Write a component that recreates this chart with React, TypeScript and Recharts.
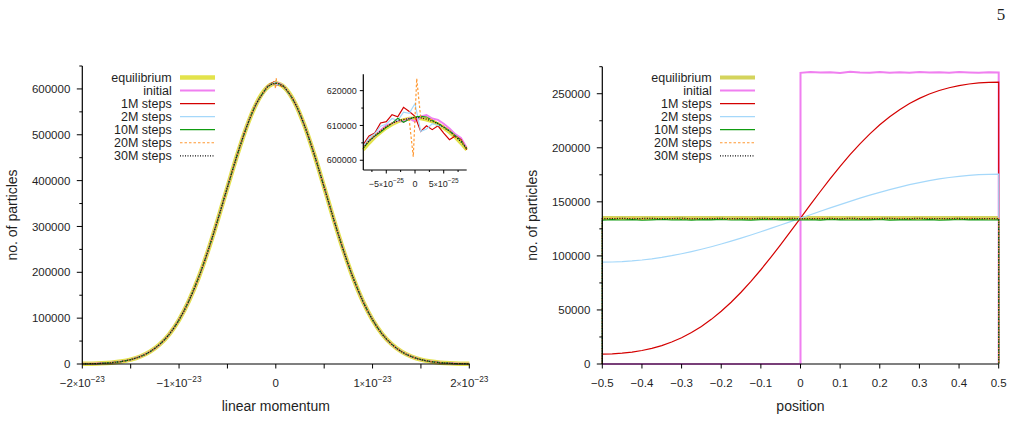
import React from 'react';
import { LineChart, Line, XAxis, YAxis, Legend } from 'recharts';

const FONT = '"Liberation Sans", Arial, Helvetica, sans-serif';
const INK = '#1f1f1f';

/* ---------------- left panel: linear momentum histogram ---------------- */

// wings of the histogram (bins every 1e-24); every run lies on the same curve here
const wingMomentum = [
  -2.0e-23, -1.9e-23, -1.8e-23, -1.7e-23, -1.6e-23, -1.5e-23, -1.4e-23, -1.3e-23, -1.2e-23, -1.1e-23,
  -1.0e-23, -9.0e-24, -8.0e-24, -7.0e-24, -6.0e-24, -5.0e-24, -4.0e-24, -3.0e-24, -2.0e-24, -1.0e-24,
  1.0e-24, 2.0e-24, 3.0e-24, 4.0e-24, 5.0e-24, 6.0e-24, 7.0e-24, 8.0e-24, 9.0e-24, 1.0e-23,
  1.1e-23, 1.2e-23, 1.3e-23, 1.4e-23, 1.5e-23, 1.6e-23, 1.7e-23, 1.8e-23, 1.9e-23, 2.0e-23,
];
const wingCounts = [
  375, 770, 1530, 2920, 5380, 9550, 16320, 26890, 42700, 65320,
  96320, 136860, 187410, 247310, 314520, 385450, 455260, 518170, 568370, 600790,
  600790, 568370, 518170, 455260, 385450, 314520, 247310, 187410, 136860, 96320,
  65320, 42700, 26890, 16320, 9550, 5380, 2920, 1530, 770, 375,
];

// centre of the histogram (bins every 1e-25), shown enlarged in the inset
const centreMomentum = [
  -9e-25, -8e-25, -7e-25, -6e-25, -5e-25, -4e-25, -3e-25, -2e-25, -1e-25, 0,
  1e-25, 2e-25, 3e-25, 4e-25, 5e-25, 6e-25, 7e-25, 8e-25, 9e-25,
];
const centreMomentum20M = [
  -9e-25, -8e-25, -7e-25, -6e-25, -5e-25, -4e-25, -3e-25, -2e-25, -1e-25, -3e-26,
  3e-26, 1e-25, 2e-25, 3e-25, 4e-25, 5e-25, 6e-25, 7e-25, 8e-25, 9e-25,
];
const centreEquilibrium = [603000, 604900, 606600, 608000, 609300, 610300, 611100, 611600, 612000, 612100, 612000, 611600, 611100, 610300, 609300, 608000, 606600, 604900, 603000];
const centreInitial = [604000, 605600, 607000, 608600, 610000, 610600, 611500, 611100, 612000, 611100, 612600, 613000, 612000, 611600, 610500, 609100, 607500, 606400, 603600];
const centre1M = [604500, 607000, 607800, 610700, 611100, 613100, 612500, 615200, 614000, 612600, 608300, 609900, 608800, 609900, 607800, 605900, 607000, 606000, 603000];
const centre2M = [604000, 606400, 607600, 609800, 610400, 612000, 611400, 613800, 613500, 616300, 608300, 609000, 610500, 610000, 609600, 608400, 607100, 605500, 603400];
const centre10M = [603500, 605500, 607000, 608100, 609500, 610600, 612100, 610900, 611800, 612500, 612600, 612400, 611500, 610600, 609600, 608500, 607100, 605600, 603300];
const centre20M = [603800, 605800, 607200, 608500, 609800, 610600, 611200, 611800, 611500, 601000, 623500, 612000, 612200, 611600, 610800, 609800, 608600, 607000, 605600, 603600];
const centre30M = [603600, 605600, 607000, 608400, 609600, 610600, 611300, 611700, 612000, 612300, 612200, 611800, 611200, 610500, 609400, 608300, 606900, 605300, 603400];

const momentumTicks = [-2e-23, -1.5e-23, -1e-23, -5e-24, 0, 5e-24, 1e-23, 1.5e-23, 2e-23];
const momentumCountTicks = [0, 50000, 100000, 150000, 200000, 250000, 300000, 350000, 400000, 450000, 500000, 550000, 600000, 650000];
const insetMomentumTicks = [-7.5e-25, -5e-25, -2.5e-25, 0, 2.5e-25, 5e-25, 7.5e-25];
const insetCountTicks = [600000, 605000, 610000, 615000, 620000];

/* ---------------- right panel: position histogram ---------------- */

const positionGrid = [
  -0.5, -0.475, -0.45, -0.425, -0.4, -0.375, -0.35, -0.325, -0.3, -0.275,
  -0.25, -0.225, -0.2, -0.175, -0.15, -0.125, -0.1, -0.075, -0.05, -0.025,
  0, 0.025, 0.05, 0.075, 0.1, 0.125, 0.15, 0.175, 0.2, 0.225,
  0.25, 0.275, 0.3, 0.325, 0.35, 0.375, 0.4, 0.425, 0.45, 0.475, 0.5,
];
const initialGrid = [0, 0.025, 0.05, 0.075, 0.1, 0.125, 0.15, 0.175, 0.2, 0.225, 0.25, 0.275, 0.3, 0.325, 0.35, 0.375, 0.4, 0.425, 0.45, 0.475, 0.5];
const positionInitial = [269300, 270100, 269600, 269900, 269200, 270300, 269700, 269400, 270000, 269500, 269800, 269300, 270200, 269600, 269900, 269400, 270100, 269700, 269500, 269900, 269600];
const position1M = [
  9220, 9410, 9995, 10999, 12469, 14464, 17052, 20306, 24297, 29092,
  34746, 41295, 48757, 57125, 66363, 76414, 87187, 98573, 110441, 122636,
  135000, 147364, 159559, 171427, 182813, 193586, 203637, 212875, 221243, 228705,
  235254, 240908, 245703, 249694, 252948, 255536, 257531, 259001, 260005, 260589, 260780,
];
const position2M = [
  94200, 94330, 94700, 95330, 96190, 97300, 98640, 100200, 101970, 103950,
  106120, 108470, 110980, 113630, 116420, 119330, 122320, 125400, 128530, 131710,
  134900, 138090, 141270, 144400, 147480, 150480, 153380, 156170, 158820, 161330,
  163680, 165850, 167830, 169600, 171160, 172500, 173610, 174480, 175100, 175480, 175600,
];
const position10M = [
  133100, 133500, 133200, 133600, 133000, 133400, 133700, 133200, 133500, 133100,
  133600, 133300, 133800, 133200, 133400, 133000, 133500, 133700, 133300, 133600,
  133200, 133500, 133100, 133700, 133400, 133200, 133600, 133300, 133800, 133100,
  133400, 133600, 133200, 133500, 133000, 133400, 133700, 133300, 133500, 133200, 133400,
];
const position20M = [
  134300, 134700, 134400, 134900, 134200, 134600, 134500, 134800, 134300, 134600,
  134400, 134700, 134500, 134200, 134800, 134400, 134600, 134300, 134700, 134500,
  134600, 134300, 134800, 134400, 134600, 134500, 134200, 134700, 134400, 134600,
  134800, 134300, 134500, 134700, 134400, 134600, 134300, 134800, 134500, 134400, 134600,
];
const position30M = [
  134500, 134400, 134800, 134300, 134600, 134700, 134400, 134500, 134900, 134300,
  134600, 134500, 134700, 134400, 134600, 134300, 134800, 134500, 134400, 134700,
  134500, 134600, 134400, 134700, 134300, 134800, 134500, 134400, 134600, 134700,
  134300, 134500, 134800, 134400, 134600, 134500, 134700, 134300, 134600, 134500, 134400,
];
const equilibriumPositions = [-0.5, 0.5];
const equilibriumCounts = [135000, 135000];

const positionTicks = [-0.5, -0.4, -0.3, -0.2, -0.1, 0, 0.1, 0.2, 0.3, 0.4, 0.5];
const positionCountTicks = [0, 25000, 50000, 75000, 100000, 125000, 150000, 175000, 200000, 225000, 250000, 275000];

/* ---------------- series styling ---------------- */

interface SeriesStyle { name: string; color: string; width: number; dash?: string }

const leftStyles: SeriesStyle[] = [
  { name: 'equilibrium', color: '#e3e34b', width: 4.5 },
  { name: 'initial', color: '#f07ff0', width: 2 },
  { name: '1M steps', color: '#d40000', width: 1.2 },
  { name: '2M steps', color: '#a5d8fa', width: 1.2 },
  { name: '10M steps', color: '#119c11', width: 1.2 },
  { name: '20M steps', color: '#ff9933', width: 1.2, dash: '2.5 2' },
  { name: '30M steps', color: '#111111', width: 1.2, dash: '1 1.5' },
];
const rightStyles: SeriesStyle[] = leftStyles.map((s, i) =>
  i === 0 ? { ...s, color: '#d4d45c', width: 4 } : s,
);

type Pt = { p: number; n: number };
const pts = (xs: number[], ys: number[]): Pt[] => xs.map((x, i) => ({ p: x, n: ys[i] }));

// full momentum histogram: wings plus the finely binned centre of each run
const withWings = (xs: number[], ys: number[]): Pt[] => {
  const wings = pts(wingMomentum, wingCounts);
  return [...wings.filter((d) => d.p < 0), ...pts(xs, ys), ...wings.filter((d) => d.p > 0)];
};

const centreRuns: Array<[number[], number[]]> = [
  [centreMomentum, centreEquilibrium],
  [centreMomentum, centreInitial],
  [centreMomentum, centre1M],
  [centreMomentum, centre2M],
  [centreMomentum, centre10M],
  [centreMomentum20M, centre20M],
  [centreMomentum, centre30M],
];

// position histogram closed at the walls (bins outside the box are empty)
const boxed = (xs: number[], ys: number[]): Pt[] => [
  { p: xs[0], n: 0 },
  ...pts(xs, ys),
  { p: xs[xs.length - 1], n: 0 },
];

const positionRuns: Pt[][] = [
  pts(equilibriumPositions, equilibriumCounts),
  [{ p: -0.5, n: 0 }, ...boxed(initialGrid, positionInitial)],
  boxed(positionGrid, position1M),
  boxed(positionGrid, position2M),
  boxed(positionGrid, position10M),
  boxed(positionGrid, position20M),
  boxed(positionGrid, position30M),
];

/* ---------------- tick renderers ---------------- */

const near = (v: number, step: number) => Math.abs(v / step - Math.round(v / step)) < 1e-6;
const minus = (s: string) => s.replace('-', '\u2212');

function yTick(isMajor: (v: number) => boolean, fs: number, gap: number, majorLen: number, minorLen: number) {
  return (props: any) => {
    const { x, y, payload } = props;
    const v = payload.value as number;
    const major = isMajor(v);
    return (
      <g>
        <line x1={x} x2={x - (major ? majorLen : minorLen)} y1={y} y2={y} stroke="#000" strokeWidth={1} />
        {major && (
          <text x={x - gap} y={y + fs * 0.36} textAnchor="end" fontSize={fs} fontFamily={FONT} fill={INK}>
            {String(Math.round(v))}
          </text>
        )}
      </g>
    );
  };
}

// labels like "−5×10^−25": labelled every `step`, mantissa in units of 10^exp
function sciTick(step: number, exp: number, fs: number, dy: number, majorLen: number, minorLen: number) {
  const unit = Math.pow(10, exp);
  return (props: any) => {
    const { x, y, payload } = props;
    const v = payload.value as number;
    const major = near(v, step);
    const m = Math.round(v / unit);
    return (
      <g>
        <line x1={x} x2={x} y1={y} y2={y + (major ? majorLen : minorLen)} stroke="#000" strokeWidth={1} />
        {major && (
          <text x={x} y={y + dy} textAnchor="middle" fontSize={fs} fontFamily={FONT} fill={INK}>
            {m === 0 ? (
              '0'
            ) : (
              <>
                {minus(String(m))}
                <tspan fontSize={fs * 0.75}>{'\u00d7'}</tspan>10
                <tspan fontSize={fs * 0.72} dy={-fs * 0.42}>{minus(String(exp))}</tspan>
              </>
            )}
          </text>
        )}
      </g>
    );
  };
}

function decTick(fs: number, dy: number, len: number) {
  return (props: any) => {
    const { x, y, payload } = props;
    const v = payload.value as number;
    const label = Math.abs(v) < 1e-9 ? '0' : minus(v.toFixed(1));
    return (
      <g>
        <line x1={x} x2={x} y1={y} y2={y + len} stroke="#000" strokeWidth={1} />
        <text x={x} y={y + dy} textAnchor="middle" fontSize={fs} fontFamily={FONT} fill={INK}>
          {label}
        </text>
      </g>
    );
  };
}

/* ---------------- key ---------------- */

function Key({ styles }: { styles: SeriesStyle[] }) {
  return (
    <svg width={130} height={96} style={{ display: 'block', overflow: 'visible' }}>
      {styles.map((s, i) => {
        const cy = 9.5 + i * 13.05;
        return (
          <g key={s.name}>
            <text x={81.7} y={cy + 4.4} textAnchor="end" fontSize={12.5} fontFamily={FONT} fill={INK}>
              {s.name}
            </text>
            <line x1={90} x2={125} y1={cy} y2={cy} stroke={s.color} strokeWidth={s.width} strokeDasharray={s.dash} />
          </g>
        );
      })}
    </svg>
  );
}

const axisLine = { stroke: '#000', strokeWidth: 1.2 };

export default function App() {
  return (
    <div style={{ position: 'absolute', left: 0, top: 0, width: 1013, height: 443, background: '#fff', overflow: 'hidden' }}>
      {/* momentum distribution */}
      <div style={{ position: 'absolute', left: 0, top: 0 }}>
        <LineChart width={500} height={443} margin={{ top: 66, right: 30.7, bottom: 0, left: 0 }}>
          <XAxis
            dataKey="p"
            type="number"
            domain={[-2e-23, 2e-23]}
            ticks={momentumTicks}
            interval={0}
            height={79}
            tickSize={0}
            tickMargin={0}
            tickLine={false}
            axisLine={axisLine}
            tick={sciTick(1e-23, -23, 11.5, 23, 4.5, 4.5)}
          />
          <YAxis
            type="number"
            domain={[0, 650000]}
            ticks={momentumCountTicks}
            interval={0}
            width={82.3}
            tickSize={0}
            tickMargin={0}
            tickLine={false}
            axisLine={axisLine}
            tick={yTick((v) => near(v, 100000), 11.5, 12, 5.5, 3)}
          />
          <Legend
            layout="vertical"
            align="center"
            verticalAlign="middle"
            wrapperStyle={{ left: 90, top: 68, width: 130, height: 96 }}
            content={() => <Key styles={leftStyles} />}
          />
          {centreRuns.map(([xs, ys], i) => (
            <Line
              key={leftStyles[i].name}
              name={leftStyles[i].name}
              data={withWings(xs, ys)}
              dataKey="n"
              type="monotone"
              stroke={leftStyles[i].color}
              strokeWidth={leftStyles[i].width}
              strokeDasharray={leftStyles[i].dash}
              dot={false}
              activeDot={false}
              isAnimationActive={false}
            />
          ))}
        </LineChart>
      </div>

      {/* enlarged centre of the momentum distribution */}
      <div style={{ position: 'absolute', left: 300, top: 60 }}>
        <LineChart width={180} height={140} margin={{ top: 14.3, right: 13.3, bottom: 0, left: 0 }}>
          <XAxis
            dataKey="p"
            type="number"
            domain={[-9e-25, 9e-25]}
            ticks={insetMomentumTicks}
            interval={0}
            height={30}
            tickSize={0}
            tickMargin={0}
            tickLine={false}
            axisLine={axisLine}
            tick={sciTick(5e-25, -25, 9, 16.7, 3.5, 2)}
          />
          <YAxis
            type="number"
            domain={[597200, 624700]}
            ticks={insetCountTicks}
            interval={0}
            width={63.3}
            tickSize={0}
            tickMargin={0}
            tickLine={false}
            axisLine={axisLine}
            tick={yTick((v) => near(v, 10000), 9, 6.5, 3.5, 2)}
          />
          {centreRuns.map(([xs, ys], i) => (
            <Line
              key={leftStyles[i].name}
              name={leftStyles[i].name}
              data={pts(xs, ys)}
              dataKey="n"
              type="linear"
              stroke={leftStyles[i].color}
              strokeWidth={i === 0 ? 3.5 : leftStyles[i].width}
              strokeDasharray={leftStyles[i].dash}
              dot={false}
              activeDot={false}
              isAnimationActive={false}
            />
          ))}
        </LineChart>
      </div>

      {/* position distribution */}
      <div style={{ position: 'absolute', left: 500, top: 0 }}>
        <LineChart width={513} height={443} margin={{ top: 66.7, right: 14.3, bottom: 0, left: 0 }}>
          <XAxis
            dataKey="p"
            type="number"
            domain={[-0.5, 0.5]}
            ticks={positionTicks}
            interval={0}
            height={79}
            tickSize={0}
            tickMargin={0}
            tickLine={false}
            axisLine={axisLine}
            tick={decTick(11.5, 23, 4.5)}
          />
          <YAxis
            type="number"
            domain={[0, 275000]}
            ticks={positionCountTicks}
            interval={0}
            width={102.3}
            tickSize={0}
            tickMargin={0}
            tickLine={false}
            axisLine={axisLine}
            tick={yTick((v) => near(v, 50000), 11.5, 12, 5.5, 3)}
          />
          <Legend
            layout="vertical"
            align="center"
            verticalAlign="middle"
            wrapperStyle={{ left: 130, top: 68, width: 130, height: 96 }}
            content={() => <Key styles={rightStyles} />}
          />
          {positionRuns.map((data, i) => (
            <Line
              key={rightStyles[i].name}
              name={rightStyles[i].name}
              data={data}
              dataKey="n"
              type="linear"
              stroke={rightStyles[i].color}
              strokeWidth={rightStyles[i].width}
              strokeDasharray={rightStyles[i].dash}
              dot={false}
              activeDot={false}
              isAnimationActive={false}
            />
          ))}
        </LineChart>
      </div>

      {/* axis titles and page number */}
      <svg width={1013} height={443} style={{ position: 'absolute', left: 0, top: 0, pointerEvents: 'none' }}>
        <text x={275.8} y={410.5} textAnchor="middle" fontSize={14} fontFamily={FONT} fill={INK}>linear momentum</text>
        <text x={800.5} y={410.5} textAnchor="middle" fontSize={14} fontFamily={FONT} fill={INK}>position</text>
        <text x={16.8} y={215} textAnchor="middle" fontSize={14} fontFamily={FONT} fill={INK} transform="rotate(-90 16.8 215)">no. of particles</text>
        <text x={536.8} y={215.3} textAnchor="middle" fontSize={14} fontFamily={FONT} fill={INK} transform="rotate(-90 536.8 215.3)">no. of particles</text>
        <text x={1001} y={20} textAnchor="middle" fontSize={17} fontFamily={'"Liberation Serif", "DejaVu Serif", serif'} fill={INK}>5</text>
      </svg>
    </div>
  );
}
